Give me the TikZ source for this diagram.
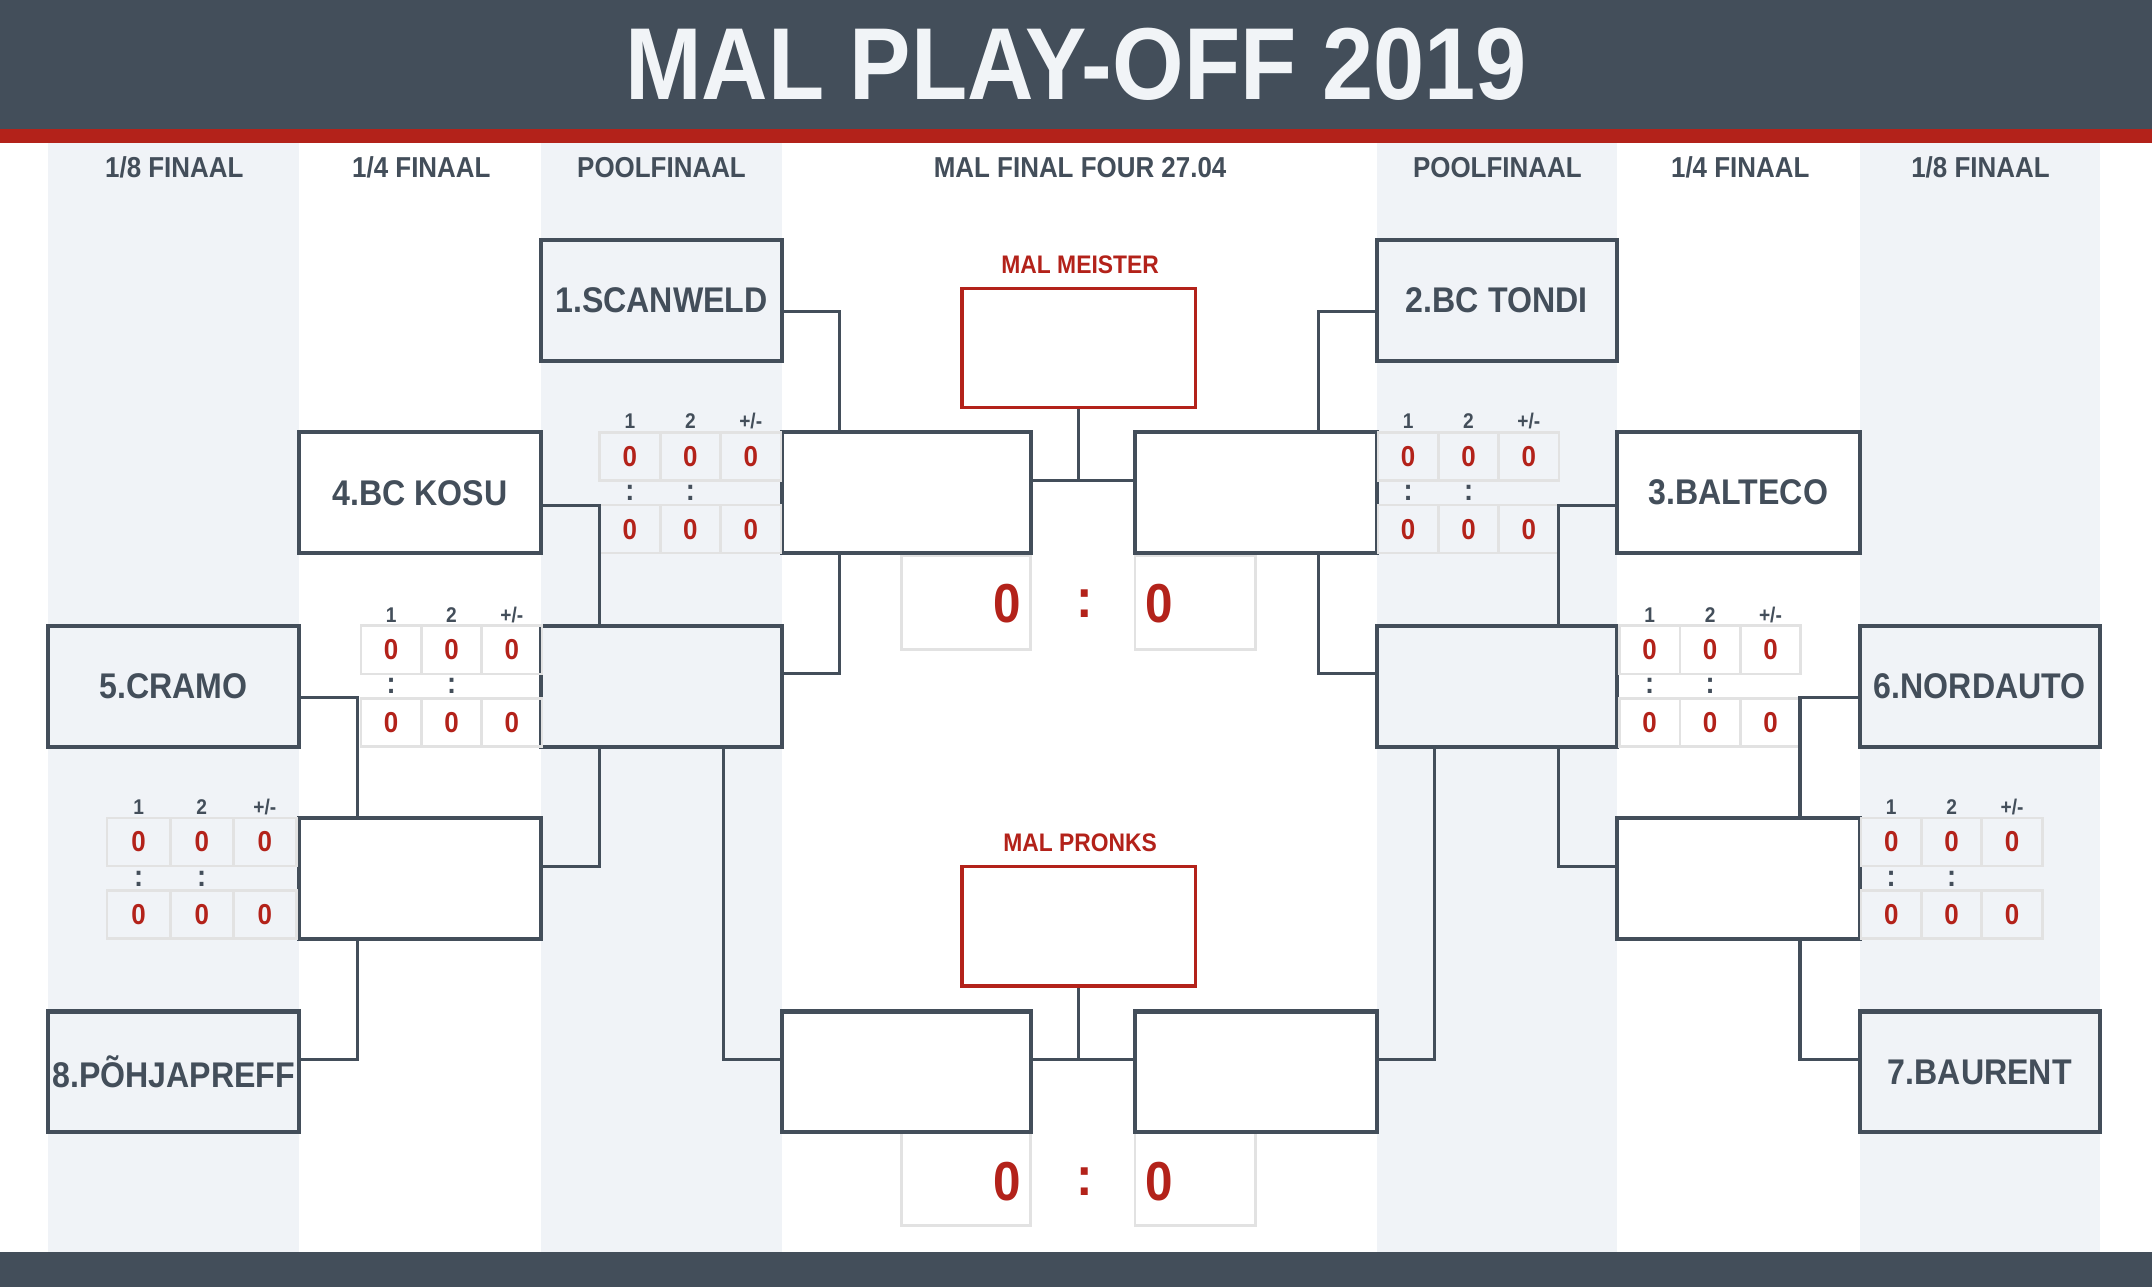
\documentclass[tikz,border=0pt]{standalone}
\usepackage{fontspec}
\setmainfont{Liberation Sans}[FakeStretch=0.9]
\definecolor{slate}{HTML}{434E5A}
\definecolor{malred}{HTML}{B3221A}
\definecolor{stripe}{HTML}{F0F3F7}
\definecolor{cellgray}{HTML}{E2E2E2}
\definecolor{titlewhite}{HTML}{F1F4F7}

% score table: name, left x, top y, cell width
\newcommand{\scoretab}[4]{%
	\foreach \c/\h in {0/1,1/2,2/{+/-}}
		{
		   \node[tabhead] (#1h\c) at (#2+\c*#4+#4/2,#3-8) {\h};
		   \node[cell, minimum width=#4 pt] (#1a\c) at (#2+\c*#4+#4/2,#3+17.5) {0};
		   \node[cell, minimum width=#4 pt] (#1b\c) at (#2+\c*#4+#4/2,#3+70.5) {0};
		};
	\foreach \c in {0,1}
		{
		  \node[smallcolon] (#1c\c) at (#2+\c*#4+#4/2,#3+44) {:};
		};
}

\begin{document}
\begin{tikzpicture}[
		x=1pt, y=-1pt,
		team/.style={draw=slate, line width=3pt, minimum height=88pt, inner sep=0pt,
			text=slate, font=\bfseries\fontsize{26}{28}\selectfont},
		winbox/.style={draw=malred, line width=2.5pt, minimum width=170pt, minimum height=87pt},
		winlabel/.style={text=malred, font=\bfseries\fontsize{18.5}{20}\selectfont},
		colhead/.style={text=slate, font=\bfseries\fontsize{21}{22}\selectfont},
		tabhead/.style={text=slate, inner sep=0pt, font=\bfseries\fontsize{15.5}{16}\selectfont},
		cell/.style={draw=cellgray, line width=2pt, minimum height=35pt, inner sep=0pt,
			text=malred, font=\bfseries\fontsize{21}{21}\selectfont},
		smallcolon/.style={text=slate, inner sep=0pt, font=\bfseries\fontsize{22}{22}\selectfont},
		scorebox/.style={draw=cellgray, line width=2pt, minimum height=68pt},
		bigzero/.style={text=malred, inner sep=0pt, font=\bfseries\fontsize{40}{40}\selectfont},
		link/.style={draw=slate, line width=2.2pt}
	]
	\useasboundingbox (0,0) rectangle (1568,938);
	\fill[white] (0,0) rectangle (1568,938);
	\foreach \a/\b in {35/218,394/570,1003/1178,1355/1530}
		{
		   \fill[stripe] (\a,104) rectangle (\b,912);
		};
	\fill[slate] (0,0) rectangle (1568,94);
	\fill[malred] (0,94) rectangle (1568,104);
	\fill[slate] (0,912) rectangle (1568,938);
	\node[text=titlewhite, font=\bfseries\fontsize{74.5}{75}\selectfont] (title) at (784,47) {MAL PLAY-OFF 2019};

	\foreach \n/\x/\t in {c1/127/{1/8 FINAAL}, c2/307/{1/4 FINAAL}, c3/482/POOLFINAAL,
		c4/787/{MAL FINAL FOUR 27.04}, c5/1091/POOLFINAAL, c6/1268/{1/4 FINAAL}, c7/1443/{1/8 FINAAL}}
		{
		   \node[colhead] (\n) at (\x,122) {\t};
		};

	% final and bronze scores
	\node[scorebox, minimum width=94pt] (finL) at (704,439) {};
	\node[scorebox, minimum width=88pt] (finR) at (871,439) {};
	\node[scorebox, minimum width=94pt] (brL) at (704,859) {};
	\node[scorebox, minimum width=88pt] (brR) at (871,859) {};
	\foreach \n/\y in {fin/440,br/861}
		{
		   \node[bigzero] (\n a) at (734,\y) {0};
		   \node[bigzero] (\n c) at (790,\y) {:};
		   \node[bigzero] (\n b) at (845,\y) {0};
		};

	\foreach \n/\x/\y/\w/\t in {
		scanweld/482/219/176/{1.SCANWELD}, kosu/306/359/176/{4.BC KOSU},
		cramo/126.5/500/183/{5.CRAMO}, pohja/126.5/781/183/{8.PÕHJAPREFF},
		qfL/306/640/176/{}, poolL/482/500/176/{}, semiL/660.5/359/181/{}, bronzeL/660.5/781/181/{},
		tondi/1090.5/219/175/{2.BC TONDI}, balteco/1266.5/359/177/{3.BALTECO},
		nordauto/1442.5/500/175/{6.NORDAUTO}, baurent/1442.5/781/175/{7.BAURENT},
		qfR/1266.5/640/177/{}, poolR/1090.5/500/175/{}, semiR/915/359/176/{}, bronzeR/915/781/176/{}}
		{
		   \node[team, minimum width=\w pt] (\n) at (\x,\y) {\t};
		};

	\node[winbox] (meister) at (786,253.5) {};
	\node[winlabel] (meisterlbl) at (787,193) {MAL MEISTER};
	\node[winbox] (pronks) at (786,675) {};
	\node[winlabel] (pronkslbl) at (787,614) {MAL PRONKS};

	\scoretab{tpl}{437}{315}{44}
	\scoretab{tql}{263}{456}{44}
	\scoretab{tel}{78}{596}{46}
	\scoretab{tpr}{1004}{315}{44}
	\scoretab{tqr}{1180}{456}{44}
	\scoretab{ter}{1356}{596}{44}

	% left half
	\draw[link] ([yshift=-8pt]scanweld.east) -| ([xshift=43pt]semiL.north west);
	\draw[link] ([yshift=9pt]poolL.east) -| ([xshift=43pt]semiL.south west);
	\draw[link] ([yshift=-9pt]kosu.east) -| ([xshift=44pt]poolL.north west);
	\draw[link] ([yshift=9pt]qfL.east) -| ([xshift=44pt]poolL.south west);
	\draw[link] ([yshift=-8pt]cramo.east) -| ([xshift=44pt]qfL.north west);
	\draw[link] ([yshift=9pt]pohja.east) -| ([xshift=44pt]qfL.south west);
	\draw[link] ([xshift=-44pt]poolL.south east) |- ([yshift=9pt]bronzeL.west);
	% right half
	\draw[link] ([yshift=-8pt]tondi.west) -| ([xshift=-44pt]semiR.north east);
	\draw[link] ([yshift=9pt]poolR.west) -| ([xshift=-44pt]semiR.south east);
	\draw[link] ([yshift=-9pt]balteco.west) -| ([xshift=-44pt]poolR.north east);
	\draw[link] ([yshift=9pt]qfR.west) -| ([xshift=-44pt]poolR.south east);
	\draw[link] ([yshift=-8pt]nordauto.west) -| ([xshift=-45pt]qfR.north east);
	\draw[link] ([yshift=9pt]baurent.west) -| ([xshift=-45pt]qfR.south east);
	\draw[link] ([xshift=44pt]poolR.south west) |- ([yshift=9pt]bronzeR.east);
	% finals
	\draw[link] ([yshift=9pt]semiL.east) -- coordinate[pos=0.5] (fmid) ([yshift=9pt]semiR.west);
	\draw[link] (meister.south) -- (meister.south |- fmid);
	\draw[link] ([yshift=9pt]bronzeL.east) -- coordinate[pos=0.5] (bmid) ([yshift=9pt]bronzeR.west);
	\draw[link] (pronks.south) -- (pronks.south |- bmid);
\end{tikzpicture}
\end{document}
